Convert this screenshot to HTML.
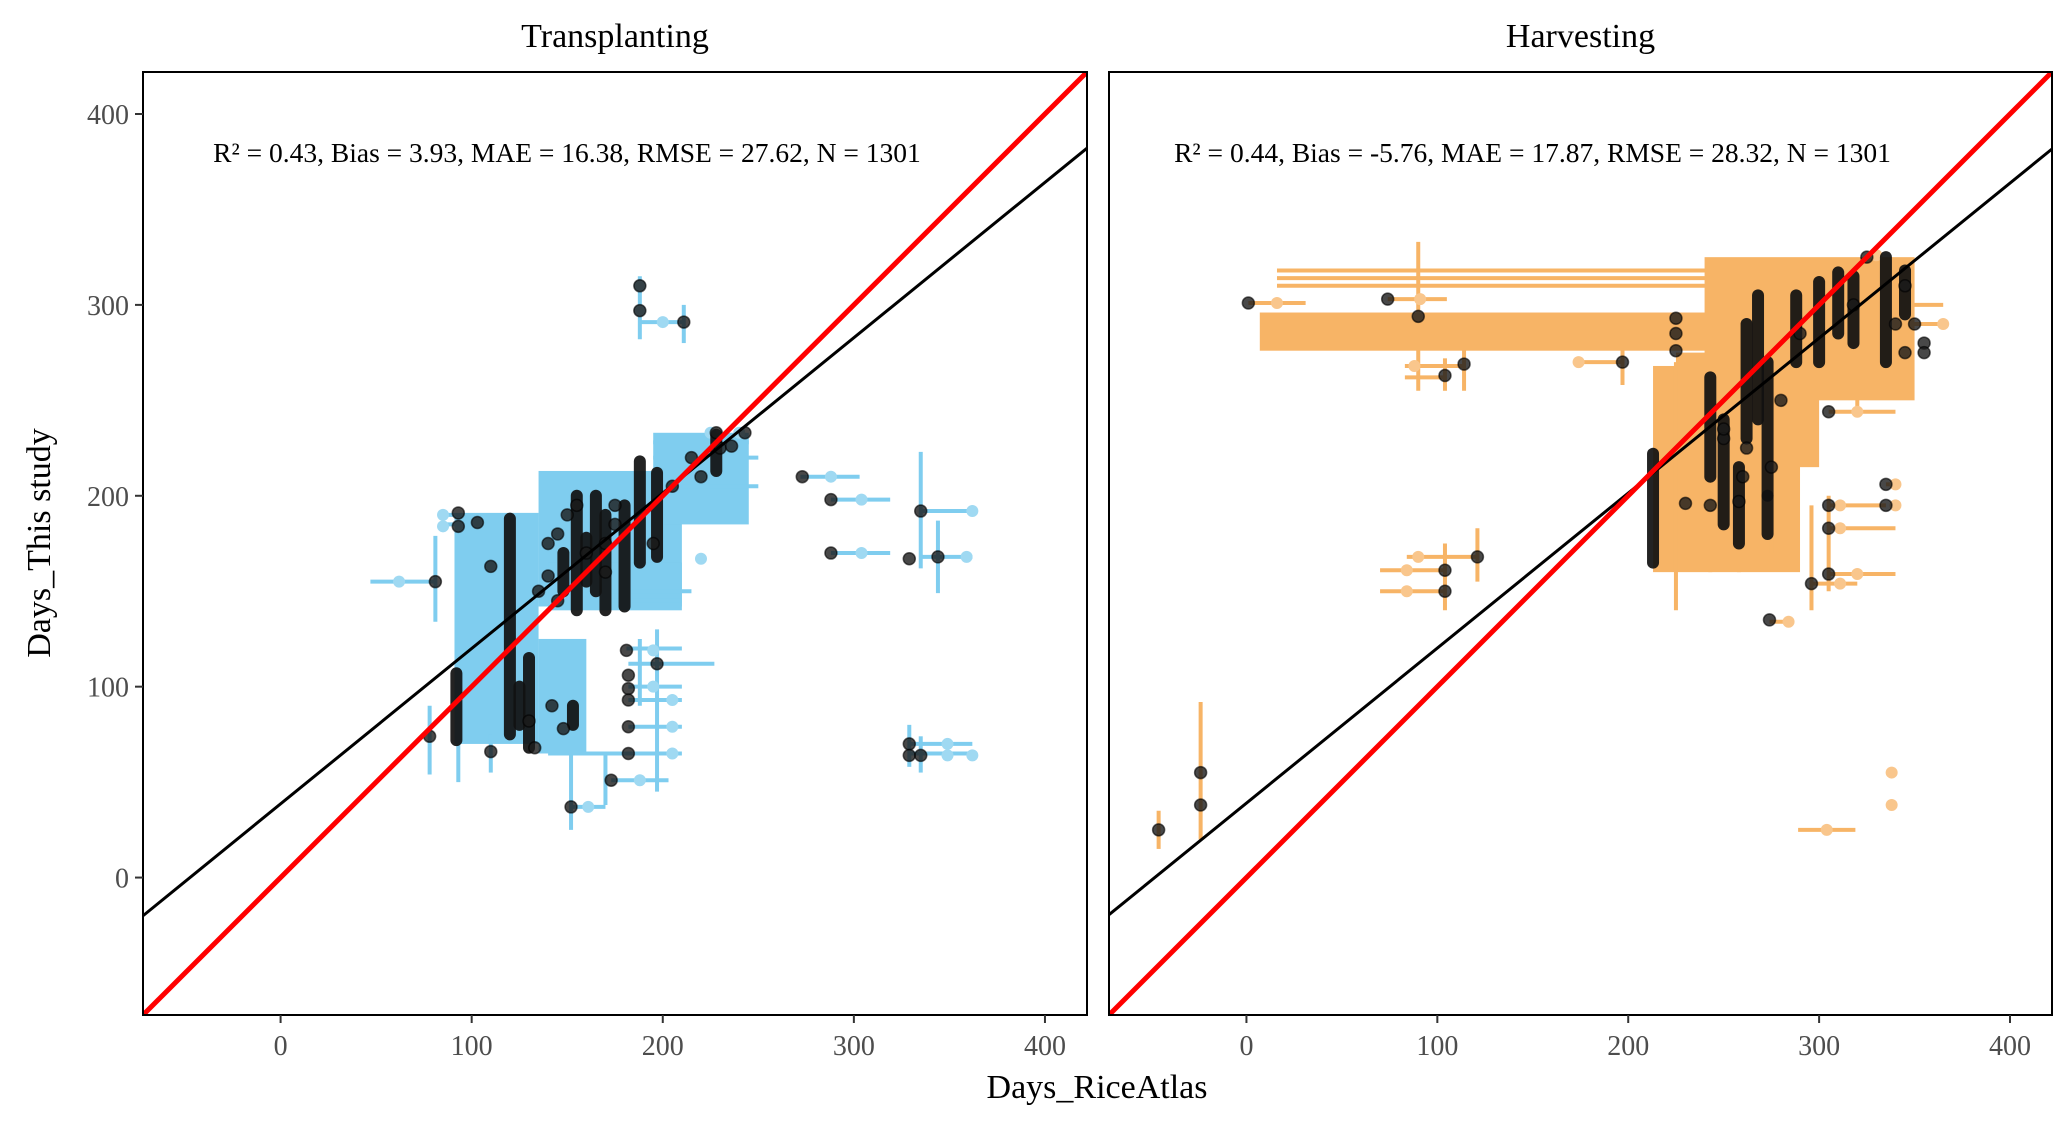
<!DOCTYPE html>
<html><head><meta charset="utf-8">
<style>
html,body{margin:0;padding:0;background:#fff;}
svg{display:block;font-family:"Liberation Serif",serif;}
</style></head>
<body>
<svg id="chart" width="2067" height="1131" viewBox="0 0 2067 1131" xmlns="http://www.w3.org/2000/svg"></svg>
<script>
// ---------- data (values in days) ----------
const tickValues = [0, 100, 200, 300, 400];
const tickLabels = ["0", "100", "200", "300", "400"];
const domainMin = -72, domainMax = 422;
const panelTitles = ["Transplanting", "Harvesting"];
const statsText = ["R\u00b2 = 0.43, Bias = 3.93, MAE = 16.38, RMSE = 27.62, N = 1301",
                   "R\u00b2 = 0.44, Bias = -5.76, MAE = 17.87, RMSE = 28.32, N = 1301"];
const fitSlope = [0.814, 0.812];
const fitIntercept = [38.6, 39.0];

// Transplanting
const tBands = [[91,135,70,190],[135,210,142,213],[195,245,185,233],[135,160,65,125],[140,210,140,165]];
const tHBars = [[190,85,135],[185,85,135],[155,47,81],[210,272,303],[198,288,319],[170,288,319],[192,335,362],[168,335,362],[70,329,362],[65,329,362],[291,188,211],[120,181,210],[112,182,227],[100,182,210],[93,182,210],[79,182,210],[65,140,210],[51,173,203],[37,152,170],[228,195,245],[220,195,250],[205,210,250],[150,170,215],[145,170,210]];
const tVBars = [[188,282,315],[211,280,300],[81,134,179],[78,54,90],[335,162,223],[344,149,187],[329,58,80],[335,55,74],[188,90,125],[197,45,130],[170,38,65],[152,25,70],[93,50,90],[110,55,75]];
const tLight = [[188,310],[188,297],[200,291],[288,210],[304,198],[304,170],[362,192],[359,168],[349,70],[362,64],[349,64],[62,155],[161,37],[188,51],[195,119],[195,100],[205,93],[205,79],[205,65],[85,190],[85,184],[225,233],[240,233],[220,167]];
const tDark = [[188,310],[188,297],[211,291],[273,210],[288,198],[288,170],[335,192],[329,167],[344,168],[329,70],[329,64],[335,64],[81,155],[78,74],[110,66],[152,37],[173,51],[181,119],[197,112],[182,106],[182,99],[182,93],[182,79],[182,65],[93,191],[93,184],[103,186],[110,163],[140,158],[145,180],[150,190],[155,195],[160,170],[170,175],[175,185],[195,175],[205,205],[215,220],[220,210],[230,225],[243,233],[236,226],[228,233],[130,82],[133,68],[148,78],[142,90],[175,195],[170,160],[145,145],[135,150],[140,175]];
const tColumns = [[92,72,107],[120,75,188],[130,68,115],[125,80,100],[153,80,90],[155,140,200],[165,150,200],[170,140,190],[180,142,195],[188,165,218],[197,168,212],[228,213,232],[160,155,178],[148,150,170]];

// Harvesting
const hBands = [[213,290,160,268],[240,350,250,325],[7,300,276,296],[225,300,215,275]];
const hHBars = [[318,16,330],[314,16,320],[310,16,300],[301,1,31],[303,74,105],[268,83,114],[262,83,104],[270,174,197],[168,84,121],[161,70,104],[150,70,104],[25,289,319],[134,274,284],[154,296,320],[159,305,340],[183,305,340],[195,305,335],[206,335,340],[244,305,340],[300,330,365],[290,340,365]];
const hVBars = [[90,255,333],[104,255,272],[114,255,280],[197,258,285],[104,140,175],[121,155,183],[-24,20,92],[-46,15,35],[296,140,195],[305,150,200],[225,140,270],[243,160,200],[258,160,200],[275,170,200],[320,245,260]];
const hLight = [[16,301],[91,303],[88,268],[174,270],[90,168],[84,161],[84,150],[338,55],[338,38],[304,25],[284,134],[311,154],[320,159],[311,183],[311,195],[340,206],[340,195],[320,244],[365,290],[330,326]];
const hDark = [[1,301],[74,303],[90,294],[104,263],[114,269],[197,270],[104,161],[104,150],[121,168],[-24,55],[-24,38],[-46,25],[274,135],[296,154],[305,159],[305,183],[305,195],[335,206],[335,195],[305,244],[225,293],[225,285],[225,276],[230,196],[243,195],[258,197],[260,210],[275,215],[280,250],[290,285],[318,300],[325,325],[345,310],[350,290],[355,280],[355,275],[345,275],[340,290],[262,225],[250,230],[250,235]];
const hColumns = [[213,165,222],[243,210,262],[262,230,290],[268,240,305],[258,175,215],[250,185,240],[273,200,270],[288,270,305],[300,270,312],[310,285,317],[318,280,315],[335,270,325],[345,295,318],[273,180,200]];

// ---------- drawing ----------
const NS = "http://www.w3.org/2000/svg";
const svg = document.getElementById("chart");
function mk(tag, attrs, parent){ const e=document.createElementNS(NS,tag); for(const k in attrs) e.setAttribute(k,attrs[k]); (parent||svg).appendChild(e); return e; }

const panels = [
  {x0:143, x1:1087, bands:tBands, hb:tHBars, vb:tVBars, light:tLight, dark:tDark, cols:tColumns, color:"#7fcdef", lightColor:"#9fd9f2", key:"transplanting"},
  {x0:1109, x1:2052, bands:hBands, hb:hHBars, vb:hVBars, light:hLight, dark:hDark, cols:hColumns, color:"#f7b466", lightColor:"#f9c68c", key:"harvesting"}
];
const y0 = 72, y1 = 1015;

panels.forEach((p, i) => {
  const sx = v => p.x0 + (v - domainMin) / (domainMax - domainMin) * (p.x1 - p.x0);
  const sy = v => y1 - (v - domainMin) / (domainMax - domainMin) * (y1 - y0);
  const g = mk("g", {});
  
  
  const clipId = "clip" + i;
  const cp = mk("clipPath", {id: clipId}, g);
  mk("rect", {x:p.x0, y:y0, width:p.x1-p.x0, height:y1-y0}, cp);
  const plot = mk("g", {"clip-path": "url(#"+clipId+")"}, g);

  p.bands.forEach(b => {
    const r = mk("rect", {x:sx(b[0]), y:sy(b[3]), width:sx(b[1])-sx(b[0]), height:sy(b[2])-sy(b[3]), fill:p.color}, plot);
    
    
  });
  p.hb.forEach(b => {
    const l = mk("line", {x1:sx(b[1]), x2:sx(b[2]), y1:sy(b[0]), y2:sy(b[0]), stroke:p.color, "stroke-width":4}, plot);
    
    
  });
  p.vb.forEach(b => {
    const l = mk("line", {x1:sx(b[0]), x2:sx(b[0]), y1:sy(b[1]), y2:sy(b[2]), stroke:p.color, "stroke-width":4}, plot);
    
    
  });
  p.light.forEach(pt => {
    const c = mk("circle", {cx:sx(pt[0]), cy:sy(pt[1]), r:6, fill:p.lightColor}, plot);
    
    
  });
  p.cols.forEach(c => {
    const l = mk("line", {x1:sx(c[0]), x2:sx(c[0]), y1:sy(c[1]), y2:sy(c[2]), stroke:"#111", "stroke-width":12, "stroke-linecap":"round", opacity:0.92}, plot);
    
    
  });
  p.dark.forEach(pt => {
    const c = mk("circle", {cx:sx(pt[0]), cy:sy(pt[1]), r:6, fill:"#1a1a1a", "fill-opacity":0.8, stroke:"#000", "stroke-opacity":0.6, "stroke-width":1.5}, plot);
    
    
  });
  const fl = mk("line", {x1:sx(domainMin), y1:sy(fitIntercept[i]+fitSlope[i]*domainMin), x2:sx(domainMax), y2:sy(fitIntercept[i]+fitSlope[i]*domainMax), stroke:"#000", "stroke-width":3}, plot);
  
  
  const one = mk("line", {x1:sx(domainMin), y1:sy(domainMin), x2:sx(domainMax), y2:sy(domainMax), stroke:"#f00", "stroke-width":5}, plot);
  
  

  const fr = mk("rect", {x:p.x0, y:y0, width:p.x1-p.x0, height:y1-y0, fill:"none", stroke:"#000", "stroke-width":2}, g);
  
  

  const t = mk("text", {x:(p.x0+p.x1)/2, y:47, "text-anchor":"middle", "font-size":34, fill:"#000"}, g);
  t.textContent = panelTitles[i];
  
  
  const st = mk("text", {x:(p.x0+p.x1)/2 - 48, y:162, "text-anchor":"middle", "font-size":27.5, fill:"#000"}, g);
  st.textContent = statsText[i];
  
  

  tickValues.forEach((v, k) => {
    mk("line", {x1:sx(v), x2:sx(v), y1:y1, y2:y1+8, stroke:"#333", "stroke-width":2}, g);
    const tl = mk("text", {x:sx(v), y:y1+40, "text-anchor":"middle", "font-size":28, fill:"#4d4d4d"}, g);
    tl.textContent = tickLabels[k];
    
    
  });
  if (i === 0) {
    tickValues.forEach((v, k) => {
      mk("line", {x1:p.x0-8, x2:p.x0, y1:sy(v), y2:sy(v), stroke:"#333", "stroke-width":2}, g);
      const tl = mk("text", {x:p.x0-14, y:sy(v)+10, "text-anchor":"end", "font-size":28, fill:"#4d4d4d"}, g);
      tl.textContent = tickLabels[k];
      
      
    });
  }
});

const xt = mk("text", {x:1097, y:1098, "text-anchor":"middle", "font-size":34, fill:"#000"});
xt.textContent = "Days_RiceAtlas";


const yt = mk("text", {x:0, y:0, "text-anchor":"middle", "font-size":34, fill:"#000", transform:"translate(50,543) rotate(-90)"});
yt.textContent = "Days_This study";


</script>
</body></html>
